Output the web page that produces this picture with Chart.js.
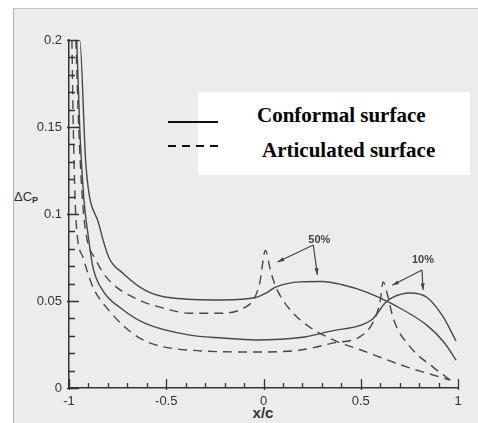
<!DOCTYPE html>
<html>
<head>
<meta charset="utf-8">
<script src="https://cdn.jsdelivr.net/npm/chart.js@4.4.1/dist/chart.umd.min.js"></script>
<style>
  html, body { margin: 0; padding: 0; background: #fff; }
  #wrap { position: relative; width: 478px; height: 423px; overflow: hidden; }
  #page { position: absolute; left: 13px; top: 8px; width: 465px; height: 415px;
          background: #ececec; border-left: 1px solid #b5b5b5; border-top: 1px solid #c5c5c5; }
  #legendBox { position: absolute; left: 198px; top: 92px; width: 272px; height: 83px; background: #fff; }
  #chart { position: absolute; left: 0; top: 0; }
  .leg { position: absolute; font-family: "Liberation Serif", "Times New Roman", serif;
         font-weight: bold; font-size: 21px; color: #000; white-space: nowrap; line-height: 1; }
  #legLines { position: absolute; left: 0; top: 0; }
  #ylab { position: absolute; left: 14px; top: 189px; font-family: "Liberation Sans", Arial, sans-serif;
          font-size: 13px; color: #333; }
  #ylab sub { font-size: 9px; vertical-align: -2px; font-weight: bold; }
  #xlab { position: absolute; left: 248px; top: 405px; width: 30px; text-align: center;
          font-family: "Liberation Sans", Arial, sans-serif; font-weight: bold; font-size: 15px; color: #333; line-height: 1; }
</style>
</head>
<body>
<div id="wrap">
  <div id="page"></div>
  <div id="legendBox"></div>
  <svg id="legLines" width="478" height="423">
    <line x1="168" y1="122" x2="218" y2="122" stroke="#111" stroke-width="2"/>
    <line x1="168" y1="146" x2="218" y2="146" stroke="#111" stroke-width="2" stroke-dasharray="8,6"/>
  </svg>
  <div class="leg" style="left:257px; top:105px;">Conformal surface</div>
  <div class="leg" style="left:262px; top:140px;">Articulated surface</div>
  <div id="ylab">&Delta;C<sub>P</sub></div>
  <div id="xlab">x/c</div>
  <canvas id="chart" width="478" height="423"></canvas>
</div>
<script>
// --- Data ---
const xTicks = [-1, -0.5, 0, 0.5, 1];
const yTicks = [0, 0.05, 0.1, 0.15, 0.2];

// 50% case, conformal surface
const conf50X = [-1, -0.945, -0.913, -0.846, -0.795, -0.723, -0.605, -0.467, -0.21, -0.041, 0.02, 0.062, 0.19, 0.3, 0.4, 0.533, 0.667, 0.841, 0.93, 0.99];
const conf50Y = [0.2, 0.2, 0.128, 0.094, 0.075, 0.066, 0.056, 0.0517, 0.0506, 0.052, 0.055, 0.058, 0.061, 0.0612, 0.0595, 0.055, 0.048, 0.036, 0.026, 0.016];

// 50% case, articulated surface
const art50X = [-0.965, -0.95, -0.932, -0.913, -0.862, -0.795, -0.641, -0.5, -0.385, -0.21, -0.1, -0.05, -0.02, 0.01, 0.035, 0.06, 0.103, 0.19, 0.359, 0.497, 0.74, 0.96];
const art50Y = [0.2, 0.15, 0.11, 0.089, 0.0736, 0.062, 0.0506, 0.0455, 0.043, 0.043, 0.046, 0.051, 0.06, 0.079, 0.068, 0.059, 0.05, 0.039, 0.0276, 0.022, 0.012, 0.0046];

// 10% case, conformal surface
const conf10X = [-0.96, -0.945, -0.923, -0.903, -0.877, -0.826, -0.723, -0.605, -0.385, -0.21, -0.041, 0.19, 0.359, 0.497, 0.564, 0.626, 0.662, 0.754, 0.841, 0.923, 0.99];
const conf10Y = [0.2, 0.15, 0.108, 0.089, 0.0695, 0.056, 0.045, 0.037, 0.0305, 0.0287, 0.0276, 0.029, 0.033, 0.036, 0.04, 0.049, 0.052, 0.0546, 0.052, 0.041, 0.027];

// 10% case, articulated surface
const art10X = [-0.985, -0.978, -0.964, -0.928, -0.877, -0.81, -0.641, -0.385, -0.041, 0.19, 0.359, 0.497, 0.564, 0.6, 0.615, 0.641, 0.667, 0.754, 0.872, 0.96];
const art10Y = [0.2, 0.15, 0.0966, 0.075, 0.058, 0.0466, 0.029, 0.0218, 0.0207, 0.0218, 0.0259, 0.0295, 0.038, 0.05, 0.061, 0.052, 0.04, 0.0236, 0.012, 0.0046];

// annotation labels: text, anchor, arrow tips
const notes = [
    { text: '50%', at: [0.287, 0.085], from: [0.256, 0.0822], tips: [[0.072, 0.0724], [0.277, 0.065]] },
    { text: '10%', at: [0.82, 0.0735], from: [0.815, 0.0678], tips: [[0.662, 0.059], [0.82, 0.0563]] }
];

const toPoints = (xs, ys) => xs.map((x, i) => ({ x: x, y: ys[i] }));
const lineColor = '#474747';

function series(xs, ys, dashed) {
    return {
        data: toPoints(xs, ys),
        borderColor: lineColor,
        borderWidth: 1.4,
        borderDash: dashed ? [9, 6] : [],
        pointRadius: 0,
        cubicInterpolationMode: 'monotone',
        fill: false
    };
}

// --- Inward tick marks + annotations ---
const decorPlugin = {
    id: 'decor',
    afterDatasetsDraw(chart) {
        const ctx = chart.ctx;
        const xs = chart.scales.x, ys = chart.scales.y;
        const x0 = xs.getPixelForValue(-1), y0 = ys.getPixelForValue(0);
        ctx.save();
        ctx.strokeStyle = '#333';
        ctx.lineWidth = 1.3;
        ctx.beginPath();
        for (let i = 0; i <= 20; i++) {
            const v = -1 + i * 0.1;
            const px = Math.round(xs.getPixelForValue(v)) + 0.5;
            const major = i % 5 === 0;
            ctx.moveTo(px, y0 + (major ? 2 : 0));
            ctx.lineTo(px, y0 - (major ? 9 : 5));
        }
        for (let i = 0; i <= 20; i++) {
            const v = i * 0.01;
            const py = Math.round(ys.getPixelForValue(v)) + 0.5;
            const major = i % 5 === 0;
            ctx.moveTo(x0 - (major ? 2 : 0), py);
            ctx.lineTo(x0 + (major ? 10 : 6), py);
        }
        ctx.stroke();

        // annotations
        ctx.fillStyle = '#444';
        ctx.strokeStyle = '#444';
        ctx.lineWidth = 1.2;
        ctx.font = 'bold 11px "Liberation Sans", Arial, sans-serif';
        ctx.textAlign = 'center';
        ctx.textBaseline = 'middle';
        notes.forEach(n => {
            ctx.fillText(n.text, xs.getPixelForValue(n.at[0]), ys.getPixelForValue(n.at[1]));
            const fx = xs.getPixelForValue(n.from[0]), fy = ys.getPixelForValue(n.from[1]);
            n.tips.forEach(t => {
                const tx = xs.getPixelForValue(t[0]), ty = ys.getPixelForValue(t[1]);
                ctx.beginPath();
                ctx.moveTo(fx, fy);
                ctx.lineTo(tx, ty);
                ctx.stroke();
                const a = Math.atan2(ty - fy, tx - fx);
                ctx.beginPath();
                ctx.moveTo(tx, ty);
                ctx.lineTo(tx - 7 * Math.cos(a - 0.3), ty - 7 * Math.sin(a - 0.3));
                ctx.lineTo(tx - 7 * Math.cos(a + 0.3), ty - 7 * Math.sin(a + 0.3));
                ctx.closePath();
                ctx.fill();
            });
        });
        ctx.restore();
    }
};

const tickFont = { family: '"Liberation Sans", Arial, sans-serif', size: 13 };

new Chart(document.getElementById('chart'), {
    type: 'line',
    data: {
        datasets: [
            series(conf50X, conf50Y, false),
            series(art50X, art50Y, true),
            series(conf10X, conf10Y, false),
            series(art10X, art10Y, true)
        ]
    },
    options: {
        responsive: false,
        animation: false,
        devicePixelRatio: 1,
        layout: { padding: { left: 0, right: 20, top: 40, bottom: 0 } },
        plugins: { legend: { display: false }, tooltip: { enabled: false } },
        scales: {
            x: {
                type: 'linear',
                min: -1, max: 1,
                afterFit: s => { s.height = 35; },
                afterBuildTicks: s => { s.ticks = xTicks.map(v => ({ value: v })); },
                grid: { display: false, drawTicks: false },
                border: { display: true, color: '#333', width: 1.5 },
                ticks: { color: '#333', font: tickFont, padding: 6, maxRotation: 0,
                         callback: v => String(+v.toFixed(1)) }
            },
            y: {
                min: 0, max: 0.2,
                afterFit: s => { s.width = 69; },
                afterBuildTicks: s => { s.ticks = yTicks.map(v => ({ value: v })); },
                grid: { display: false, drawTicks: false },
                border: { display: true, color: '#333', width: 1.5 },
                ticks: { color: '#333', font: tickFont, padding: 7,
                         callback: v => String(+v.toFixed(2)) }
            }
        }
    },
    plugins: [decorPlugin]
});
</script>
</body>
</html>
